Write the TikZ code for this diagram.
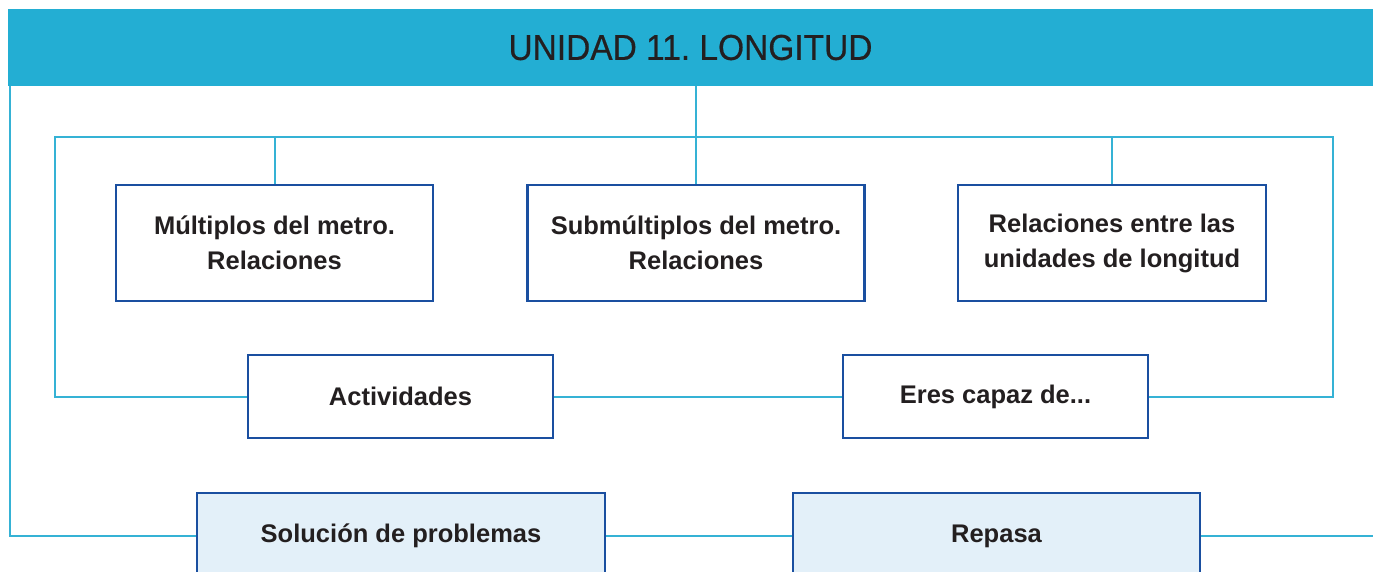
\documentclass[tikz,border=0pt]{standalone}
\usepackage{fontspec}
\setmainfont{Liberation Sans}
\newfontfamily\titlefont[FakeStretch=0.93,FakeBold=0.5]{Liberation Sans}
\usetikzlibrary{backgrounds}
\definecolor{banner}{HTML}{23AED3}
\definecolor{conn}{HTML}{35B2D5}
\definecolor{boxline}{HTML}{1A4FA0}
\definecolor{boxfill}{HTML}{E3F0F9}
\definecolor{ink}{HTML}{231F20}
\tikzset{
  topic/.style={draw=boxline, line width=2.6pt, fill=white, text=ink,
    font=\fontsize{25.5}{35}\selectfont\bfseries, align=center, inner sep=0pt},
  extra/.style={topic, fill=boxfill},
  link/.style={draw=conn, line width=2pt}
}
\begin{document}
\begin{tikzpicture}[x=1pt,y=-1pt]
\useasboundingbox (0,0) rectangle (1373,571);
\clip (0,0) rectangle (1373,571);
% banner
\node[fill=banner, minimum width=1365pt, minimum height=77pt, inner sep=0pt,
  text=ink, font=\titlefont\fontsize{36}{40}\selectfont] (title) at (690.5,47.5) {UNIDAD 11.\ LONGITUD};
% boxes
\node[topic, minimum width=317pt, minimum height=116pt] (b1) at (274.5,243) {Múltiplos del metro.\\Relaciones};
\node[topic, minimum width=337pt, minimum height=116pt] (b2) at (696,243) {Submúltiplos del metro.\\Relaciones};
\node[topic, minimum width=308pt, minimum height=116pt] (b3) at (1112,243) {Relaciones entre las\\unidades de longitud};
\node[topic, minimum width=305pt, minimum height=83pt] (act) at (400.5,396.5) {Actividades};
\node[topic, minimum width=305pt, minimum height=83pt] (eres) at (995.5,396.5) {Eres capaz de...};
\node[extra, minimum width=408pt, minimum height=86pt] (sol) at (401,536) {Solución de problemas};
\node[extra, minimum width=407pt, minimum height=86pt] (rep) at (996.5,536) {Repasa};
% frame coordinates
\coordinate (tl) at (55,137);
\coordinate (tr) at (1333,137);
\coordinate (L) at (10,86);
\coordinate (R) at (1373,536);
% connectors
\begin{scope}[on background layer]
\draw[link] (title.south -| b2.north) -- (b2.north);
\draw[link] (act.west) -| (tl) -- (tr) |- (eres.east);
\draw[link] (act.east) -- (eres.west);
\draw[link] (b1.north) -- (b1.north |- tl);
\draw[link] (b3.north) -- (b3.north |- tl);
\draw[link] (L) |- (sol.west);
\draw[link] (sol.east) -- (rep.west);
\draw[link] (rep.east) -- (R);
\end{scope}
\end{tikzpicture}
\end{document}
